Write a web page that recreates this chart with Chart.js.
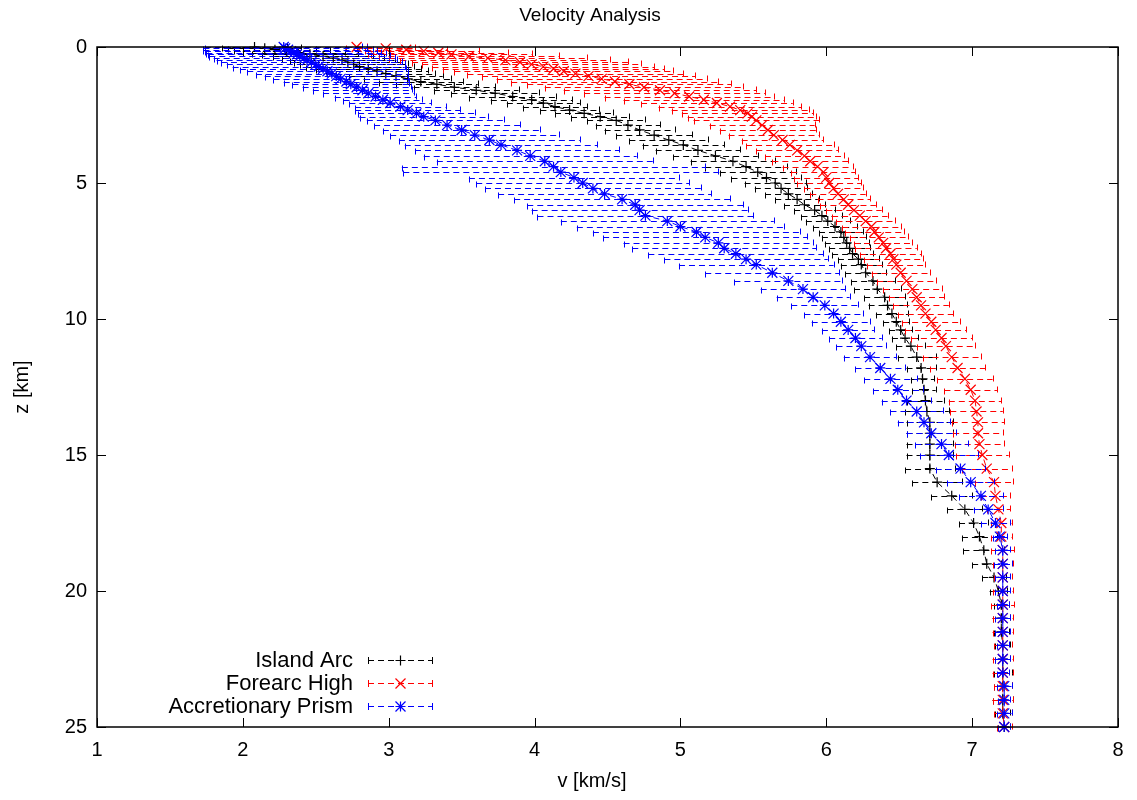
<!DOCTYPE html>
<html lang="en">
  <head>
    <meta charset="utf-8" />
    <title>Velocity Analysis</title>
    <style>
      * {
        margin: 0;
        padding: 0;
      }
      body {
        background: #fff;
      }
      .chartBox {
        width: 1137px;
        height: 800px;
      }
    </style>
  </head>
  <body>
    <div class="chartBox">
      <canvas id="myChart" width="1137" height="800"></canvas>
    </div>
    <script src="https://cdn.jsdelivr.net/npm/chart.js"></script>
    <script>
      // depth of each sample [km], shared by all three profiles
      const depth = [
        0.0, 0.05, 0.1, 0.15, 0.21, 0.27, 0.34, 0.41, 0.48, 0.56,
        0.64, 0.72, 0.8, 0.89, 0.98, 1.07, 1.17, 1.27, 1.37, 1.48,
        1.59, 1.7, 1.82, 1.94, 2.06, 2.19, 2.32, 2.44, 2.56, 2.7,
        2.87, 3.05, 3.24, 3.42, 3.6, 3.8, 4.0, 4.2, 4.4, 4.6,
        4.8, 5.0, 5.2, 5.4, 5.6, 5.8, 6.0, 6.2, 6.4, 6.6,
        6.8, 7.0, 7.2, 7.4, 7.6, 7.8, 8.0, 8.3, 8.6, 8.9,
        9.2, 9.5, 9.8, 10.1, 10.4, 10.7, 11.0, 11.4, 11.8, 12.2,
        12.6, 13.0, 13.4, 13.8, 14.2, 14.6, 15.0, 15.5, 16.0, 16.5,
        17.0, 17.5, 18.0, 18.5, 19.0, 19.5, 20.0, 20.5, 21.0, 21.5,
        22.0, 22.5, 23.0, 23.5, 24.0, 24.5, 25.0
      ];

      // Island Arc
      const arcMean = [
        2.08, 2.15, 2.22, 2.3, 2.38, 2.46, 2.55, 2.62, 2.68, 2.72,
        2.76, 2.8, 2.86, 2.92, 2.98, 3.05, 3.13, 3.22, 3.33, 3.45,
        3.6, 3.73, 3.85, 3.98, 4.06, 4.14, 4.24, 4.34, 4.45, 4.56,
        4.64, 4.72, 4.82, 4.92, 5.02, 5.12, 5.24, 5.36, 5.45, 5.53,
        5.59, 5.65, 5.69, 5.74, 5.8, 5.85, 5.92, 5.97, 6.01, 6.06,
        6.1, 6.12, 6.14, 6.16, 6.18, 6.22, 6.24, 6.27, 6.32, 6.35,
        6.4, 6.42, 6.45, 6.48, 6.51, 6.54, 6.58, 6.62, 6.65, 6.66,
        6.67, 6.68, 6.69, 6.71, 6.71, 6.71, 6.71, 6.71, 6.76, 6.86,
        6.95, 7.01, 7.05, 7.08, 7.1, 7.15, 7.18, 7.2, 7.2, 7.2,
        7.21, 7.21, 7.21, 7.21, 7.21, 7.21, 7.22
      ];
      const arcStd = [
        0.22, 0.25, 0.28, 0.3, 0.32, 0.33, 0.34, 0.35, 0.36, 0.37,
        0.37, 0.37, 0.36, 0.35, 0.34, 0.32, 0.3, 0.29, 0.28, 0.28,
        0.29, 0.3, 0.3, 0.28, 0.25, 0.22, 0.2, 0.2, 0.2, 0.2,
        0.22, 0.24, 0.26, 0.27, 0.28, 0.29, 0.29, 0.29, 0.28, 0.26,
        0.24, 0.21, 0.18, 0.16, 0.15, 0.14, 0.14, 0.14, 0.15, 0.15,
        0.15, 0.15, 0.15, 0.14, 0.14, 0.14, 0.14, 0.14, 0.15, 0.16,
        0.14, 0.13, 0.11, 0.09, 0.08, 0.09, 0.1, 0.13, 0.1, 0.08,
        0.08, 0.13, 0.15, 0.16, 0.16, 0.16, 0.16, 0.17, 0.17, 0.14,
        0.12, 0.1, 0.12, 0.14, 0.1, 0.08, 0.06, 0.05, 0.06, 0.05,
        0.05, 0.05, 0.06, 0.06, 0.07, 0.05, 0.04
      ];

      // Forearc High
      const forearcMean = [
        2.78, 2.98, 3.12, 3.24, 3.34, 3.43, 3.55, 3.68, 3.8, 3.9,
        3.98, 4.06, 4.13, 4.2, 4.28, 4.37, 4.46, 4.55, 4.65, 4.75,
        4.86, 4.96, 5.06, 5.16, 5.25, 5.34, 5.41, 5.46, 5.49, 5.52,
        5.56, 5.6, 5.64, 5.7, 5.75, 5.8, 5.85, 5.89, 5.94, 5.98,
        6.0, 6.02, 6.05, 6.08, 6.12, 6.15, 6.19, 6.23, 6.27, 6.31,
        6.33, 6.36, 6.39, 6.41, 6.44, 6.46, 6.48, 6.51, 6.55, 6.59,
        6.62, 6.65, 6.68, 6.72, 6.75, 6.79, 6.82, 6.86, 6.9, 6.95,
        6.99, 7.02, 7.03, 7.04, 7.04, 7.05, 7.07, 7.1, 7.15, 7.16,
        7.18, 7.2, 7.2, 7.21, 7.21, 7.21, 7.21, 7.21, 7.21, 7.21,
        7.21, 7.21, 7.21, 7.21, 7.21, 7.21, 7.22
      ];
      const forearcStd = [
        0.07, 0.2, 0.28, 0.38, 0.48, 0.55, 0.62, 0.68, 0.72, 0.74,
        0.75, 0.76, 0.76, 0.75, 0.74, 0.73, 0.72, 0.71, 0.7, 0.68,
        0.66, 0.62, 0.58, 0.55, 0.52, 0.49, 0.47, 0.45, 0.44, 0.43,
        0.36, 0.33, 0.31, 0.28, 0.3, 0.28, 0.27, 0.26, 0.24, 0.22,
        0.22, 0.22, 0.2, 0.19, 0.18, 0.19, 0.19, 0.19, 0.2, 0.2,
        0.2, 0.2, 0.2, 0.21, 0.21, 0.2, 0.2, 0.2, 0.2, 0.2,
        0.19, 0.19, 0.19, 0.2, 0.21, 0.21, 0.2, 0.2, 0.19, 0.19,
        0.18, 0.18, 0.18, 0.18, 0.17, 0.17, 0.18, 0.17, 0.13, 0.1,
        0.08, 0.07, 0.07, 0.08, 0.07, 0.06, 0.07, 0.08, 0.07, 0.07,
        0.06, 0.07, 0.07, 0.06, 0.07, 0.06, 0.05
      ];

      // Accretionary Prism
      const prismMean = [
        2.28, 2.29, 2.31, 2.33, 2.35, 2.37, 2.39, 2.42, 2.44, 2.47,
        2.5, 2.52, 2.55, 2.58, 2.61, 2.64, 2.67, 2.71, 2.74, 2.78,
        2.82, 2.86, 2.91, 2.96, 3.01, 3.08, 3.13, 3.19, 3.24, 3.32,
        3.4, 3.5, 3.59, 3.69, 3.77, 3.88, 3.97, 4.07, 4.13, 4.18,
        4.27, 4.33, 4.4, 4.48, 4.6, 4.69, 4.72, 4.76, 4.91, 5.0,
        5.11, 5.17, 5.26, 5.3, 5.38, 5.45, 5.52, 5.63, 5.74, 5.84,
        5.91, 5.99, 6.05, 6.1, 6.15, 6.2, 6.24, 6.3, 6.37, 6.44,
        6.49, 6.55, 6.62, 6.67, 6.72, 6.79, 6.84, 6.92, 6.99, 7.06,
        7.11, 7.16, 7.19, 7.21, 7.21, 7.21, 7.21, 7.21, 7.21, 7.21,
        7.21, 7.21, 7.21, 7.22, 7.22, 7.22, 7.22
      ];
      const prismStd = [
        0.54, 0.56, 0.58, 0.59, 0.6, 0.61, 0.62, 0.62, 0.62, 0.62,
        0.61, 0.59, 0.57, 0.55, 0.52, 0.49, 0.46, 0.43, 0.4, 0.37,
        0.34, 0.31, 0.28, 0.27, 0.28, 0.31, 0.36, 0.4, 0.44, 0.47,
        0.5, 0.54, 0.58, 0.62, 0.66, 0.7, 0.73, 0.74, 1.04, 1.08,
        0.72, 0.73, 0.74, 0.73, 0.74, 0.74, 0.74, 0.74, 0.73, 0.71,
        0.71, 0.7, 0.65, 0.63, 0.6, 0.56, 0.53, 0.46, 0.37, 0.29,
        0.25, 0.23, 0.2, 0.2, 0.18, 0.18, 0.17, 0.18, 0.17, 0.18,
        0.17, 0.17, 0.18, 0.18, 0.17, 0.18, 0.2, 0.17, 0.16, 0.15,
        0.1, 0.1, 0.05, 0.05, 0.06, 0.05, 0.05, 0.04, 0.05, 0.05,
        0.04, 0.05, 0.04, 0.05, 0.04, 0.05, 0.04
      ];

      const xTicks = [1, 2, 3, 4, 5, 6, 7, 8];
      const yTicks = [0, 5, 10, 15, 20, 25];

      const FONT = '"Liberation Sans", Arial, sans-serif';

      function points(mean) {
        return depth.map((z, i) => ({ x: mean[i], y: z }));
      }

      // gnuplot style markers: plus, cross, star
      function marker(ctx, style, x, y) {
        const r = 5;
        ctx.beginPath();
        if (style === "plus" || style === "star") {
          ctx.moveTo(x - r, y);
          ctx.lineTo(x + r, y);
          ctx.moveTo(x, y - r);
          ctx.lineTo(x, y + r);
        }
        if (style === "cross" || style === "star") {
          ctx.moveTo(x - r, y - r);
          ctx.lineTo(x + r, y + r);
          ctx.moveTo(x - r, y + r);
          ctx.lineTo(x + r, y - r);
        }
        ctx.stroke();
      }

      // horizontal error bars under each profile, markers on top of it
      const errorBars = {
        id: "errorBars",
        beforeDatasetDraw(chart, args) {
          const ds = chart.data.datasets[args.index];
          const {
            ctx,
            scales: { x, y }
          } = chart;
          ctx.save();
          ctx.strokeStyle = ds.borderColor;
          ctx.lineWidth = 1;
          ds.data.forEach((p, i) => {
            const py = Math.round(y.getPixelForValue(p.y)) + 0.5;
            const x0 = x.getPixelForValue(p.x - ds.errors[i]);
            const x1 = x.getPixelForValue(p.x + ds.errors[i]);
            ctx.setLineDash([6, 4]);
            ctx.beginPath();
            ctx.moveTo(x0, py);
            ctx.lineTo(x1, py);
            ctx.stroke();
            ctx.setLineDash([]);
            ctx.beginPath();
            ctx.moveTo(Math.round(x0) + 0.5, py - 2);
            ctx.lineTo(Math.round(x0) + 0.5, py + 4);
            ctx.moveTo(Math.round(x1) + 0.5, py - 4);
            ctx.lineTo(Math.round(x1) + 0.5, py + 2);
            ctx.stroke();
          });
          ctx.restore();
        },
        afterDatasetDraw(chart, args) {
          const ds = chart.data.datasets[args.index];
          const {
            ctx,
            scales: { x, y }
          } = chart;
          ctx.save();
          ctx.strokeStyle = ds.borderColor;
          ctx.lineWidth = 1.2;
          ds.data.forEach((p) => {
            marker(ctx, ds.mark, x.getPixelForValue(p.x), y.getPixelForValue(p.y));
          });
          ctx.restore();
        }
      };

      // frame, inward ticks, titles and the key
      const frame = {
        id: "frame",
        afterDraw(chart) {
          const {
            ctx,
            chartArea: { left, right, top, bottom },
            scales: { x, y }
          } = chart;
          ctx.save();
          ctx.strokeStyle = "#000";
          ctx.lineWidth = 1.5;
          ctx.strokeRect(left, top, right - left, bottom - top);
          ctx.lineWidth = 1;
          ctx.beginPath();
          xTicks.forEach((v) => {
            const px = Math.round(x.getPixelForValue(v)) + 0.5;
            ctx.moveTo(px, bottom);
            ctx.lineTo(px, bottom - 9);
            ctx.moveTo(px, top);
            ctx.lineTo(px, top + 9);
          });
          yTicks.forEach((v) => {
            const py = Math.round(y.getPixelForValue(v)) + 0.5;
            ctx.moveTo(left, py);
            ctx.lineTo(left + 9, py);
            ctx.moveTo(right, py);
            ctx.lineTo(right - 9, py);
          });
          ctx.stroke();

          ctx.fillStyle = "#000";
          ctx.font = "19px " + FONT;
          ctx.textAlign = "center";
          ctx.textBaseline = "middle";
          ctx.fillText("Velocity Analysis", 590, 16);
          ctx.font = "20px " + FONT;
          ctx.fillText("v [km/s]", 592, 781);
          ctx.save();
          ctx.translate(22, (top + bottom) / 2);
          ctx.rotate(-Math.PI / 2);
          ctx.fillText("z [km]", 0, 0);
          ctx.restore();

          // key, bottom left
          ctx.font = "22px " + FONT;
          chart.data.datasets.forEach((ds, i) => {
            const ky = 660 + i * 23;
            ctx.fillStyle = "#000";
            ctx.textAlign = "right";
            ctx.fillText(ds.label, 353, ky + 1);
            ctx.strokeStyle = ds.borderColor;
            ctx.setLineDash([6, 4]);
            ctx.beginPath();
            ctx.moveTo(368, ky + 0.5);
            ctx.lineTo(433, ky + 0.5);
            ctx.stroke();
            ctx.setLineDash([]);
            ctx.beginPath();
            ctx.moveTo(368.5, ky - 3);
            ctx.lineTo(368.5, ky + 4);
            ctx.moveTo(432.5, ky - 3);
            ctx.lineTo(432.5, ky + 4);
            ctx.stroke();
            ctx.lineWidth = 1.2;
            marker(ctx, ds.mark, 400.5, ky + 0.5);
            ctx.lineWidth = 1;
          });
          ctx.restore();
        }
      };

      function profile(label, mean, errors, color, mark, order) {
        return {
          label,
          data: points(mean),
          errors,
          mark,
          borderColor: color,
          backgroundColor: color,
          borderWidth: 1,
          borderDash: [6, 4],
          showLine: true,
          pointRadius: 0,
          clip: false,
          order
        };
      }

      const data = {
        datasets: [
          profile("Island Arc", arcMean, arcStd, "#000000", "plus", 3),
          profile("Forearc High", forearcMean, forearcStd, "#ff0000", "cross", 2),
          profile("Accretionary Prism", prismMean, prismStd, "#0000ff", "star", 1)
        ]
      };

      const config = {
        type: "scatter",
        data,
        options: {
          responsive: false,
          animation: false,
          devicePixelRatio: 1,
          layout: { padding: { top: 47, right: 19, left: 0, bottom: 0 } },
          plugins: {
            legend: { display: false },
            tooltip: { enabled: false },
            title: { display: false }
          },
          scales: {
            x: {
              type: "linear",
              min: 1,
              max: 8,
              afterFit: (s) => {
                s.height = 73;
              },
              afterBuildTicks: (s) => {
                s.ticks = xTicks.map((v) => ({ value: v }));
              },
              grid: { display: false, drawTicks: false },
              border: { display: false },
              ticks: {
                padding: 11,
                color: "#000",
                font: { family: FONT, size: 20 }
              }
            },
            y: {
              type: "linear",
              min: 0,
              max: 25,
              reverse: true,
              afterFit: (s) => {
                s.width = 97;
              },
              afterBuildTicks: (s) => {
                s.ticks = yTicks.map((v) => ({ value: v }));
              },
              grid: { display: false, drawTicks: false },
              border: { display: false },
              ticks: {
                padding: 10,
                color: "#000",
                font: { family: FONT, size: 20 }
              }
            }
          }
        },
        plugins: [errorBars, frame]
      };

      const myChart = new Chart(document.getElementById("myChart"), config);
    </script>
  </body>
</html>
